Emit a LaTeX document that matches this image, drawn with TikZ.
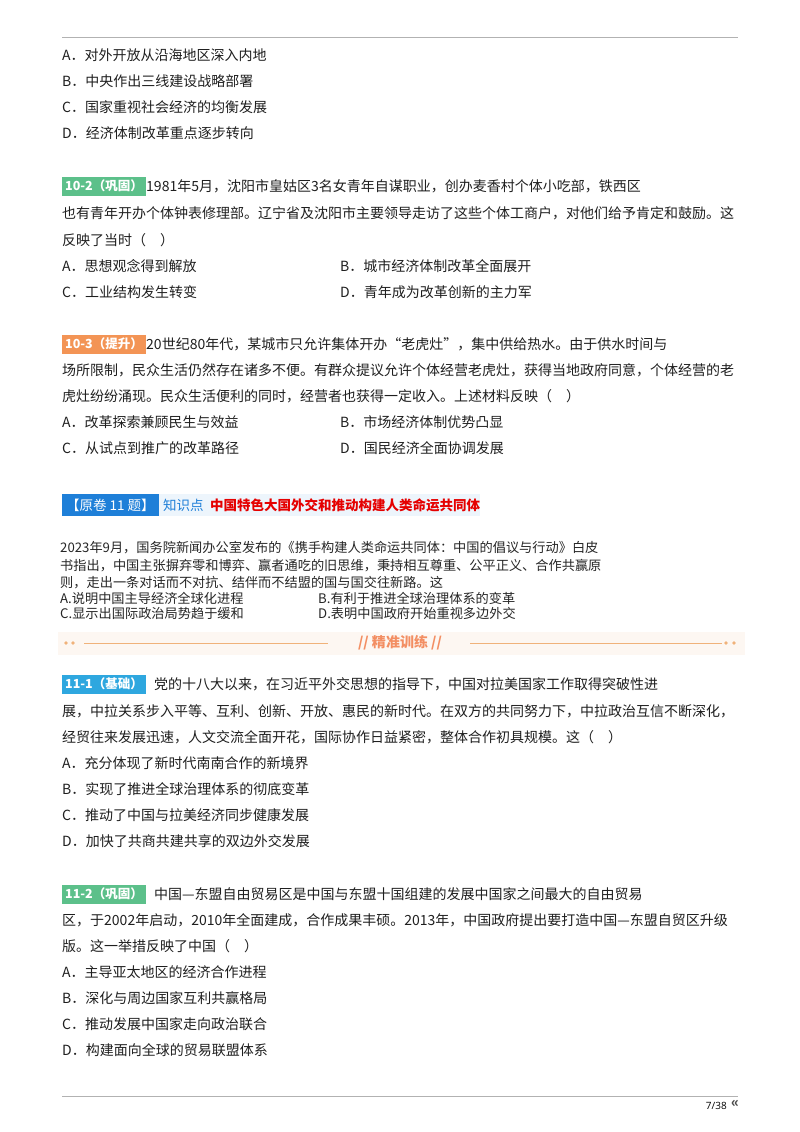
\documentclass[tikz,border=0pt]{standalone}
\usepackage{fontspec}
\setmainfont{Noto Sans CJK SC}
\newfontfamily\sans{Open Sans}
\definecolor{gbadge}{HTML}{5CC08A}
\definecolor{obadge}{HTML}{F39455}
\definecolor{bbadge}{HTML}{2EA7DF}
\definecolor{hdrblue}{HTML}{1E7FD8}
\definecolor{sepor}{HTML}{F0B27A}
\tikzset{
 t/.style={anchor=west,inner sep=0pt,font=\fontsize{14}{15}\selectfont,text=black!88},
 s/.style={anchor=west,inner sep=0pt,font=\fontsize{13.2}{14}\selectfont,text=black!85},
 badge/.style={anchor=west,inner sep=0pt,minimum height=19pt,text=white,font=\fontsize{12.5}{13}\selectfont\bfseries,inner xsep=3pt},
}
\begin{document}
\begin{tikzpicture}[x=1pt,y=-1pt]
\useasboundingbox[fill=white] (0,0) rectangle (800,1132);
\draw[black!30,line width=0.8pt] (62,37) -- (738,37);
\node[t] (a1) at (62,55) {A．对外开放从沿海地区深入内地};
\node[t] (a2) at (62,81) {B．中央作出三线建设战略部署};
\node[t] (a3) at (62,107) {C．国家重视社会经济的均衡发展};
\node[t] (a4) at (62,133) {D．经济体制改革重点逐步转向};
% 10-2
\node[badge,fill=gbadge] (b2) at (62,186) {10-2（巩固）};
\node[t] (q2a) at (b2.east) {1981年5月，沈阳市皇姑区3名女青年自谋职业，创办麦香村个体小吃部，铁西区};
\node[t] (q2b) at (62,213) {也有青年开办个体钟表修理部。辽宁省及沈阳市主要领导走访了这些个体工商户，对他们给予肯定和鼓励。这};
\node[t] (q2c) at (62,240) {反映了当时（　）};
\node[t] (o2a) at (62,266) {A．思想观念得到解放};
\node[t] (o2b) at (340,266) {B．城市经济体制改革全面展开};
\node[t] (o2c) at (62,292) {C．工业结构发生转变};
\node[t] (o2d) at (340,292) {D．青年成为改革创新的主力军};
% 10-3
\node[badge,fill=obadge] (b3) at (62,344) {10-3（提升）};
\node[t] (q3a) at (b3.east) {20世纪80年代，某城市只允许集体开办“老虎灶”，集中供给热水。由于供水时间与};
\node[t] (q3b) at (62,370) {场所限制，民众生活仍然存在诸多不便。有群众提议允许个体经营老虎灶，获得当地政府同意，个体经营的老};
\node[t] (q3c) at (62,396) {虎灶纷纷涌现。民众生活便利的同时，经营者也获得一定收入。上述材料反映（　）};
\node[t] (o3a) at (62,422) {A．改革探索兼顾民生与效益};
\node[t] (o3b) at (340,422) {B．市场经济体制优势凸显};
\node[t] (o3c) at (62,448) {C．从试点到推广的改革路径};
\node[t] (o3d) at (340,448) {D．国民经济全面协调发展};
% header
\fill[hdrblue!8] (62,494) rectangle (480,516);
\node[anchor=west,fill=hdrblue,text=white,minimum height=22pt,inner xsep=4pt,font=\fontsize{13.5}{14}\selectfont] (h1) at (62,505) {【原卷 11 题】};
\node[anchor=west,text=hdrblue,font=\fontsize{13.5}{14}\selectfont,inner xsep=4pt] (h2) at (h1.east) {知识点};
\node[anchor=west,text=red!90!black,font=\fontsize{13.5}{14}\selectfont\bfseries,inner xsep=2pt] (h3) at (h2.east) {中国特色大国外交和推动构建人类命运共同体};
% image paragraph
\node[s] (p1) at (60,548) {2023年9月，国务院新闻办公室发布的《携手构建人类命运共同体：中国的倡议与行动》白皮};
\node[s] (p2) at (60,566) {书指出，中国主张摒弃零和博弈、赢者通吃的旧思维，秉持相互尊重、公平正义、合作共赢原};
\node[s] (p3) at (60,583) {则，走出一条对话而不对抗、结伴而不结盟的国与国交往新路。这};
\node[s] (p4) at (60,598) {A.说明中国主导经济全球化进程};
\node[s] (p5) at (318,598) {B.有利于推进全球治理体系的变革};
\node[s] (p6) at (60,613) {C.显示出国际政治局势趋于缓和};
\node[s] (p7) at (318,613) {D.表明中国政府开始重视多边外交};
% separator
\fill[sepor!10] (58,632) rectangle (745,655);
\draw[sepor,line width=0.8pt] (84,643) -- (328,643);
\draw[sepor,line width=0.8pt] (470,643) -- (722,643);
\foreach \xx in {66,73,726,734} \fill[sepor] (\xx,643) circle (1.8);
\node[inner sep=0pt,text=sepor!80!red,font=\fontsize{14}{14}\selectfont\bfseries] (sep) at (400,643) {\textit{//} 精准训练 \textit{//}};
% 11-1
\node[badge,fill=bbadge] (b4) at (62,684) {11-1（基础）};
\node[t,xshift=8pt] (q4a) at (b4.east) {党的十八大以来，在习近平外交思想的指导下，中国对拉美国家工作取得突破性进};
\node[t] (q4b) at (62,711) {展，中拉关系步入平等、互利、创新、开放、惠民的新时代。在双方的共同努力下，中拉政治互信不断深化，};
\node[t] (q4c) at (62,737) {经贸往来发展迅速，人文交流全面开花，国际协作日益紧密，整体合作初具规模。这（　）};
\node[t] (o4a) at (62,763) {A．充分体现了新时代南南合作的新境界};
\node[t] (o4b) at (62,789) {B．实现了推进全球治理体系的彻底变革};
\node[t] (o4c) at (62,815) {C．推动了中国与拉美经济同步健康发展};
\node[t] (o4d) at (62,841) {D．加快了共商共建共享的双边外交发展};
% 11-2
\node[badge,fill=gbadge] (b5) at (62,894) {11-2（巩固）};
\node[t,xshift=8pt] (q5a) at (b5.east) {中国—东盟自由贸易区是中国与东盟十国组建的发展中国家之间最大的自由贸易};
\node[t] (q5b) at (62,920) {区，于2002年启动，2010年全面建成，合作成果丰硕。2013年，中国政府提出要打造中国—东盟自贸区升级};
\node[t] (q5c) at (62,946) {版。这一举措反映了中国（　）};
\node[t] (o5a) at (62,972) {A．主导亚太地区的经济合作进程};
\node[t] (o5b) at (62,998) {B．深化与周边国家互利共赢格局};
\node[t] (o5c) at (62,1024) {C．推动发展中国家走向政治联合};
\node[t] (o5d) at (62,1050) {D．构建面向全球的贸易联盟体系};
% footer
\draw[black!30,line width=0.8pt] (62,1096) -- (738,1096);
\node[anchor=east,inner sep=0pt,font=\sans\fontsize{10}{10}\selectfont] (pg) at (727,1106) {7/38};
\node[anchor=west,inner sep=0pt,font=\bfseries\fontsize{14}{14}\selectfont,text=black!70] (ar) at (731,1104) {«};
\end{tikzpicture}
\end{document}
